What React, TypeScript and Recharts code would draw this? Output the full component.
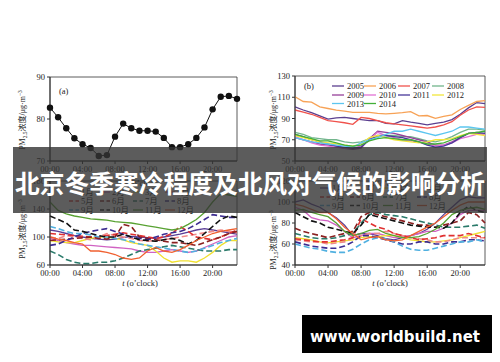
import React from 'react';
import { LineChart, Line, XAxis, YAxis, ReferenceArea } from 'recharts';

const FONT = '"Liberation Serif", "Times New Roman", "Noto Sans CJK SC", serif';

// categories
const hours = [0, 1, 2, 3, 4, 5, 6, 7, 8, 9, 10, 11, 12, 13, 14, 15, 16, 17, 18, 19, 20, 21, 22, 23];
const hourTicks = [0, 4, 8, 12, 16, 20];
const hourTickLabels = ['00:00', '04:00', '08:00', '12:00', '16:00', '20:00'];

// (a) mean hourly PM2.5
const pmMean = [82.7, 80.4, 77.8, 75.4, 74, 73.1, 71.2, 71.4, 75.8, 78.9, 77.8, 77.2, 77.2, 77, 75.5, 73.3, 73.3, 74, 75.5, 78, 82.3, 85.3, 85.5, 84.8];

// (b) yearly
const years = ['2005', '2006', '2007', '2008', '2009', '2010', '2011', '2012', '2013', '2014'];
const yearColors = ['#5b3f8f', '#f7a256', '#f0524c', '#72b58c', '#96409a', '#e272d4', '#47399a', '#f2e63c', '#5cc6f0', '#43b038'];
const y2005 = [101, 98, 95.5, 92.5, 89.5, 90.5, 91, 90, 89, 88, 88, 85.5, 85, 88, 86.5, 85.5, 84, 85.5, 86.5, 89, 94, 100, 105, 104];
const y2006 = [110.5, 106, 105.4, 100.9, 99.4, 97.9, 97, 95.8, 95.8, 95.8, 94.9, 94.3, 94.9, 95.5, 96.4, 92.5, 92.8, 90.1, 91.9, 93.4, 98.5, 102.4, 106, 106.9];
const y2007 = [98, 96, 94, 91, 88, 87, 86, 84.5, 91, 90, 88, 86, 85, 84, 83, 82, 81, 82, 84, 87, 93, 98, 101, 100.5];
const y2008 = [77, 75, 72, 71, 70, 70, 68, 67, 68, 71, 73, 74, 74, 73, 73, 71, 69, 68, 70, 73, 77, 80, 80, 79];
const y2009 = [72, 70, 68, 66, 65, 64, 62, 61, 62, 71, 78, 77, 76, 74, 72, 70, 68, 65, 65, 68, 72, 76, 76, 75];
const y2010 = [73, 70, 67, 65, 64, 63, 62, 62, 64, 70, 77, 74, 72, 70, 69, 68, 66, 64, 65, 67, 71, 73, 75, 75];
const y2011 = [75, 73, 70, 68, 66, 64, 63, 62, 63, 70, 74, 74, 73, 72, 70, 68, 65, 63, 64, 67, 72, 76, 77, 76];
const y2012 = [74, 72, 70, 68, 67, 66, 65, 64, 66, 72, 74, 72, 70, 69, 68, 67, 68, 70, 70, 71, 74, 76, 75, 74];
const y2013 = [72, 70, 68, 67, 66, 65, 64, 63, 67, 70, 72, 75, 78, 78, 80, 78, 76, 74, 76, 78, 82, 82, 81, 80];
const y2014 = [75, 73, 71, 69, 69, 67, 65, 64, 65, 69, 71, 72, 71, 70, 70, 68, 66, 66, 67, 70, 73, 76, 77, 78];
const yearData = [y2005, y2006, y2007, y2008, y2009, y2010, y2011, y2012, y2013, y2014];

// (c),(d) monthly
const months = ['1月', '2月', '3月', '4月', '5月', '6月', '7月', '8月', '9月', '10月', '11月', '12月'];
const monthColors = ['#5a3d96', '#d062c2', '#f0e030', '#f08a8a', '#e03030', '#8b2020', '#2a7a6a', '#3c2c90', '#50b0e0', '#111111', '#58a232', '#f06030'];
const monthDashed = [false, false, false, true, true, true, true, true, true, true, false, false];

const c01 = [110, 108, 105, 102, 100, 98, 97, 96, 97, 99, 101, 100, 99, 98, 100, 102, 104, 107, 110, 112, 110, 108, 106, 104];
const c02 = [98, 95, 92, 90, 88, 88, 87, 86, 85, 84, 83, 80, 78, 78, 80, 82, 80, 78, 80, 85, 90, 95, 100, 102];
const c03 = [95, 93, 92, 92, 95, 98, 100, 100, 98, 96, 92, 90, 88, 80, 70, 64, 66, 66, 64, 70, 78, 88, 95, 95];
const c04 = [100, 98, 102, 100, 98, 96, 100, 105, 102, 100, 98, 95, 94, 95, 96, 98, 100, 102, 104, 106, 108, 110, 108, 106];
const c05 = [105, 104, 103, 102, 101, 100, 100, 102, 104, 106, 104, 102, 100, 98, 100, 105, 115, 108, 100, 98, 96, 100, 105, 110];
const c06 = [95, 96, 97, 98, 99, 100, 98, 97, 100, 118, 115, 100, 98, 96, 94, 92, 92, 90, 88, 92, 96, 100, 105, 108];
const c07 = [80, 75, 68, 64, 62, 62, 64, 64, 66, 70, 75, 80, 82, 84, 86, 88, 86, 84, 82, 80, 80, 80, 82, 82];
const c08 = [88, 90, 95, 100, 105, 108, 110, 112, 108, 104, 100, 98, 96, 100, 104, 106, 108, 112, 118, 125, 132, 130, 128, 128];
const c09 = [115, 112, 108, 105, 105, 103, 100, 100, 98, 96, 94, 90, 88, 86, 84, 82, 80, 78, 80, 84, 88, 92, 95, 98];
const c10 = [130, 125, 120, 110, 108, 105, 102, 100, 100, 104, 100, 96, 95, 94, 96, 98, 95, 90, 95, 105, 115, 125, 130, 128];
const c11 = [150, 138, 133, 130, 128, 126, 125, 124, 122, 121, 120, 118, 116, 114, 112, 110, 112, 118, 125, 135, 150, 162, 160, 158];
const c12 = [100, 97, 95, 92, 90, 80, 80, 78, 75, 70, 68, 70, 80, 85, 80, 78, 82, 88, 95, 100, 105, 108, 110, 112];
const monthDataC = [c01, c02, c03, c04, c05, c06, c07, c08, c09, c10, c11, c12];

const d01 = [100, 102, 98, 95, 90, 85, 78, 68, 70, 70, 68, 65, 64, 66, 68, 70, 74, 80, 88, 95, 102, 105, 104, 104];
const d02 = [95, 92, 85, 83, 82, 78, 72, 66, 68, 70, 70, 68, 66, 67, 68, 70, 72, 72, 75, 80, 88, 92, 92, 92];
const d03 = [66, 65, 64, 62, 61, 62, 63, 64, 66, 67, 67, 68, 68, 66, 64, 63, 62, 62, 63, 64, 66, 68, 70, 72];
const d04 = [64, 63, 62, 62, 60, 61, 62, 66, 68, 70, 70, 72, 70, 68, 66, 65, 64, 62, 62, 64, 66, 66, 66, 66];
const d05 = [65, 64, 63, 62, 62, 63, 64, 66, 84, 80, 76, 74, 70, 68, 66, 64, 65, 66, 68, 68, 68, 70, 68, 66];
const d06 = [75, 72, 70, 68, 66, 68, 70, 72, 86, 90, 88, 86, 84, 82, 80, 78, 78, 76, 78, 80, 82, 90, 88, 80];
const d07 = [70, 68, 66, 65, 65, 66, 68, 70, 80, 88, 90, 88, 87, 86, 84, 82, 80, 78, 76, 76, 76, 77, 78, 75];
const d08 = [62, 60, 58, 57, 56, 56, 58, 62, 68, 68, 66, 64, 62, 60, 60, 62, 62, 60, 60, 62, 62, 64, 64, 63];
const d09 = [60, 58, 56, 55, 53, 52, 52, 55, 60, 64, 66, 65, 62, 58, 55, 54, 54, 56, 58, 60, 62, 62, 64, 62];
const d10 = [90, 86, 82, 80, 76, 74, 72, 70, 78, 88, 86, 84, 82, 80, 78, 77, 76, 76, 75, 80, 90, 96, 92, 90];
const d11 = [92, 93, 90, 88, 86, 80, 72, 68, 70, 73, 74, 70, 68, 66, 66, 67, 70, 74, 80, 88, 92, 94, 95, 93];
const d12 = [98, 96, 93, 90, 90, 84, 76, 70, 64, 66, 67, 64, 63, 64, 68, 72, 76, 80, 86, 92, 97, 100, 100, 100];
const monthDataD = [d01, d02, d03, d04, d05, d06, d07, d08, d09, d10, d11, d12];

const titleText = '北京冬季寒冷程度及北风对气候的影响分析';
const watermark = 'www.worldbuild.net';

type Series = { key: string; color: string; dash?: boolean; data: number[]; width?: number };

const tickStyle = { fontSize: 8.5, fill: '#222', fontFamily: FONT };

function Panel(props: {
  left: number; top: number; width: number; height: number; mTop: number; mRight: number;
  yWidth: number; xHeight: number; domain: [number, number]; ticks: number[]; series: Series[]; dots?: boolean;
}) {
  const { left, top, width, height, mTop, mRight, yWidth, xHeight, domain, ticks, series, dots } = props;
  const rows = hours.map((h, i) => {
    const r: any = { h };
    series.forEach((s) => { r[s.key] = s.data[i]; });
    return r;
  });
  return (
    <div style={{ position: 'absolute', left, top }}>
      <LineChart width={width} height={height} data={rows} margin={{ top: mTop, right: mRight, left: 0, bottom: 0 }}>
        <XAxis dataKey="h" type="number" domain={[0, 23]} ticks={hourTicks} interval={0}
          tickFormatter={(v: number) => hourTickLabels[hourTicks.indexOf(v)]}
          height={xHeight} tickSize={3} stroke="#333" tick={tickStyle} />
        <YAxis type="number" domain={domain} ticks={ticks} interval={0} width={yWidth} tickSize={3}
          stroke="#333" tick={tickStyle} allowDataOverflow />
        <ReferenceArea x1={0} x2={23} y1={domain[0]} y2={domain[1]} fill="none" fillOpacity={0} stroke="#333" strokeWidth={0.8} />
        {series.map((s) => (
          <Line key={s.key} type="linear" dataKey={s.key} stroke={s.color}
            strokeWidth={s.width ?? (s.dash ? 1.6 : 1.3)} strokeDasharray={s.dash ? '6 3' : undefined}
            dot={dots ? { r: 3.2, fill: '#111', stroke: '#111', strokeWidth: 0 } : false}
            isAnimationActive={false} />
        ))}
      </LineChart>
    </div>
  );
}

function YLabel({ x, y }: { x: number; y: number }) {
  return (
    <text transform={`translate(${x},${y}) rotate(-90)`} textAnchor="middle" fontSize={8} fontFamily={FONT} fill="#222">
      PM<tspan fontSize={5.5} dy={1.5}>2.5</tspan><tspan dy={-1.5}>浓度/μg·m</tspan><tspan fontSize={5.5} dy={-3}>−3</tspan>
    </text>
  );
}

function TLabel({ x, y }: { x: number; y: number }) {
  return (
    <text x={x} y={y} textAnchor="middle" fontSize={8.5} fontFamily={FONT} fill="#222">
      <tspan fontStyle="italic">t</tspan> (o’clock)
    </text>
  );
}

function LegendGrid(props: { labels: string[]; colors: string[]; dashed: boolean[]; cols: number[]; rows: number[]; len: number; gap: number }) {
  const { labels, colors, dashed, cols, rows, len, gap } = props;
  return (
    <g>
      {labels.map((lab, i) => {
        const cx = cols[i % cols.length];
        const cy = rows[Math.floor(i / cols.length)];
        return (
          <g key={lab}>
            <line x1={cx} x2={cx + len} y1={cy} y2={cy} stroke={colors[i]} strokeWidth={dashed[i] ? 1.6 : 1.3}
              strokeDasharray={dashed[i] ? '4 2.5' : undefined} />
            <text x={cx + gap} y={cy + 3} fontSize={8.5} fontFamily={FONT} fill="#222">{lab}</text>
          </g>
        );
      })}
    </g>
  );
}

export default function App() {
  const seriesA: Series[] = [{ key: 'pm', color: '#111', data: pmMean, width: 1 }];
  const seriesB: Series[] = years.map((y, i) => ({ key: 'y' + y, color: yearColors[i], data: yearData[i] }));
  const seriesC: Series[] = months.map((m, i) => ({ key: 'm' + i, color: monthColors[i], dash: monthDashed[i], data: monthDataC[i] }));
  const seriesD: Series[] = months.map((m, i) => ({ key: 'm' + i, color: monthColors[i], dash: monthDashed[i], data: monthDataD[i] }));
  return (
    <div style={{ position: 'absolute', left: 0, top: 0, width: 500, height: 362, background: '#fff', overflow: 'hidden' }}>
      <Panel left={0} top={65} width={250} height={120} mTop={12} mRight={13} yWidth={50} xHeight={24}
        domain={[70, 90]} ticks={[70, 80, 90]} series={seriesA} dots />
      <Panel left={250} top={65} width={250} height={120} mTop={11} mRight={15} yWidth={45} xHeight={24}
        domain={[50, 130]} ticks={[50, 70, 90, 110, 130]} series={seriesB} />
      <Panel left={0} top={170} width={250} height={125} mTop={11} mRight={13} yWidth={50} xHeight={30}
        domain={[60, 180]} ticks={[60, 100, 140, 180]} series={seriesC} />
      <Panel left={250} top={170} width={250} height={125} mTop={11} mRight={15} yWidth={45} xHeight={30}
        domain={[40, 120]} ticks={[40, 60, 80, 100, 120]} series={seriesD} />
      <svg width={500} height={362} style={{ position: 'absolute', left: 0, top: 0, pointerEvents: 'none' }}>
        <text x={59} y={94} fontSize={8.5} fontFamily={FONT} fill="#222">(a)</text>
        <text x={304} y={89} fontSize={8.5} fontFamily={FONT} fill="#222">(b)</text>
        <YLabel x={25} y={120} />
        <YLabel x={276} y={120} />
        <YLabel x={25} y={229} />
        <YLabel x={276} y={240} />
        <TLabel x={143} y={186} />
        <TLabel x={390} y={186} />
        <TLabel x={140} y={286} />
        <TLabel x={390} y={286} />
        <LegendGrid labels={years} colors={yearColors} dashed={years.map(() => false)}
          cols={[332, 364, 398, 432]} rows={[86, 95, 103.5]} len={12} gap={15} />
        <LegendGrid labels={months} colors={monthColors} dashed={monthDashed}
          cols={[69, 100, 133, 165]} rows={[192, 201, 210]} len={10} gap={12} />
        <LegendGrid labels={months} colors={monthColors} dashed={monthDashed}
          cols={[320, 350, 383, 417]} rows={[188, 197, 205.5]} len={10} gap={12} />
        <rect x={13} y={147} width={474} height={66} fill="#333" opacity={0.8} />
        <text x={250} y={193} textAnchor="middle" fontSize={25} fontWeight="bold" fill="#fff"
          fontFamily='"Noto Sans CJK SC", sans-serif' textLength={470} lengthAdjust="spacingAndGlyphs">{titleText}</text>
        <rect x={302} y={315} width={190} height={38} fill="#000" />
        <text x={395} y={342} textAnchor="middle" fontSize={16} fontWeight="bold" fill="#fff"
          fontFamily='"DejaVu Sans", sans-serif' textLength={170} lengthAdjust="spacingAndGlyphs">{watermark}</text>
      </svg>
    </div>
  );
}
